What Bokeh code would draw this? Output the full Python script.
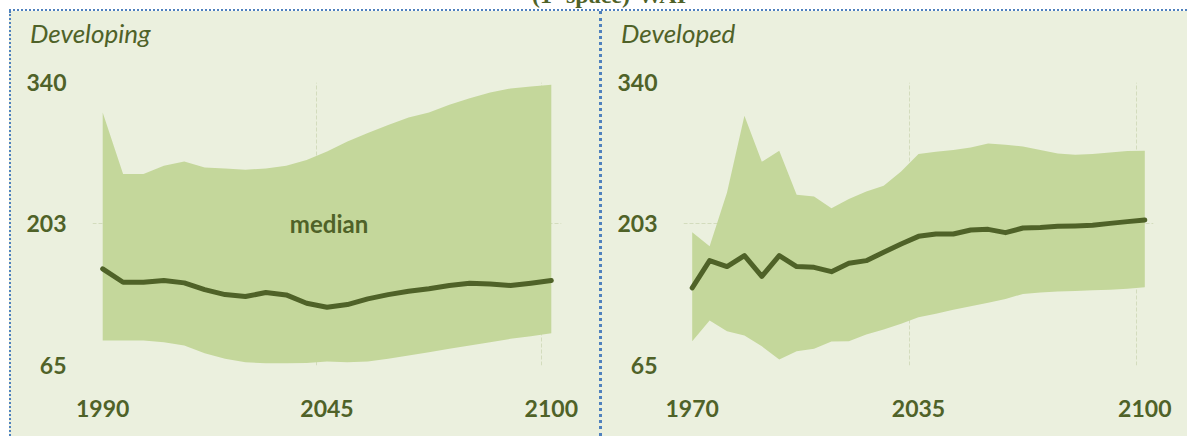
from bokeh.plotting import figure
from bokeh.layouts import row, column
from bokeh.models import Range1d, FixedTicker, Label, ColumnDataSource, Div, Spacer
from bokeh.embed import file_html
from bokeh.resources import INLINE

# ---------------- data ----------------
years_developing = [1990, 1995, 2000, 2005, 2010, 2015, 2020, 2025, 2030, 2035, 2040, 2045,
                    2050, 2055, 2060, 2065, 2070, 2075, 2080, 2085, 2090, 2095, 2100]
developing_median = [158.9, 145.9, 145.9, 147.5, 145.3, 138.8, 133.9, 132.0, 135.9, 133.6, 125.5, 121.6,
                     124.2, 129.7, 133.9, 137.1, 139.5, 142.7, 144.9, 144.3, 142.7, 144.9, 147.5]
developing_upper = [310.9, 251.1, 251.1, 259.1, 263.3, 257.5, 256.5, 255.3, 256.5, 259.1, 264.7, 273.0,
                    282.7, 290.9, 298.6, 306.0, 310.9, 318.4, 324.8, 330.3, 334.2, 336.1, 337.8]
developing_lower = [89.3, 89.3, 89.3, 87.6, 84.4, 76.9, 71.5, 68.2, 67.2, 67.2, 67.5, 68.9,
                    68.2, 68.9, 71.5, 74.7, 77.9, 81.2, 84.4, 87.6, 90.9, 93.4, 96.4]

years_developed = [1970, 1975, 1980, 1985, 1990, 1995, 2000, 2005, 2010, 2015, 2020, 2025, 2030, 2035,
                   2040, 2045, 2050, 2055, 2060, 2065, 2070, 2075, 2080, 2085, 2090, 2095, 2100]
developed_median = [140.4, 166.9, 161.1, 171.8, 151.7, 171.8, 161.1, 160.4, 156.2, 164.3, 166.9, 175.0, 183.1, 190.5,
                    192.8, 192.8, 196.7, 197.3, 194.1, 198.6, 199.2, 200.2, 200.6, 201.2, 203.1, 204.8, 206.4]
developed_upper = [194.4, 180.8, 233.2, 307.7, 263.0, 273.7, 231.0, 229.3, 217.7, 226.8, 234.2, 239.7, 253.6, 270.5,
                   272.7, 274.4, 276.9, 280.8, 279.5, 277.9, 274.4, 271.1, 269.8, 270.5, 272.1, 273.4, 273.7]
developed_lower = [88.6, 108.7, 98.3, 94.1, 83.7, 70.8, 78.9, 81.2, 88.3, 88.6, 95.1, 100.0, 105.5, 111.9,
                   115.2, 119.1, 122.6, 125.9, 129.7, 134.6, 135.9, 136.8, 137.5, 138.1, 138.5, 139.5, 141.0]

y_ticks = [65, 203, 340]
developing_x_ticks = [1990, 2045, 2100]
developed_x_ticks = [1970, 2035, 2100]
developing_x_grid = [1987.5, 2042.5, 2097.5]
developed_x_grid = [1967.5, 2032.5, 2097.5]

chart_title = "(1- space)·WAI"
panel_titles = ["Developing", "Developed"]
band_label = "median"

# ---------------- style ----------------
BG = "#ebf0de"
BAND = "#c4d79b"
DARK = "#4f6228"
GRID = "#d3dcbd"
BLUE = "#4f81bd"
FONT = "Lato"
HEAD_H = 50
FIG_H = 375
PANEL_H = HEAD_H + FIG_H


def make_panel(title, years, lower, upper, median, x_range, x_ticks, x_grid,
               width, border_left, border_right, show_label=False):
    p = figure(width=width, height=FIG_H, x_range=Range1d(*x_range), y_range=Range1d(65, 340),
               output_backend="svg", toolbar_location=None,
               background_fill_color=BG, border_fill_color=BG,
               min_border_left=border_left, min_border_right=border_right,
               min_border_top=21, min_border_bottom=71,
               styles={"background-color": BG})
    p.outline_line_color = None

    src = ColumnDataSource(dict(x=years, lo=lower, hi=upper, med=median))
    p.varea(x="x", y1="lo", y2="hi", source=src, fill_color=BAND, fill_alpha=1.0)
    p.line(x="x", y="med", source=src, line_color=DARK, line_width=5,
           line_join="round", line_cap="round")

    for ax in (p.xaxis[0], p.yaxis[0]):
        ax.axis_line_color = None
        ax.major_tick_line_color = None
        ax.minor_tick_line_color = None
        ax.major_tick_out = 0
        ax.major_tick_in = 0
        ax.major_label_text_font = FONT
        ax.major_label_text_font_style = "bold"
        ax.major_label_text_font_size = "23px"
        ax.major_label_text_color = DARK
    p.xaxis[0].ticker = FixedTicker(ticks=x_ticks)
    p.yaxis[0].ticker = FixedTicker(ticks=y_ticks)
    p.xaxis[0].major_label_standoff = 34
    p.yaxis[0].major_label_standoff = 26

    p.xgrid[0].ticker = FixedTicker(ticks=x_grid)
    p.ygrid[0].ticker = FixedTicker(ticks=y_ticks)
    for g in (p.xgrid[0], p.ygrid[0]):
        g.grid_line_color = GRID
        g.grid_line_dash = "4 2"
        g.grid_line_width = 1

    if show_label:
        p.add_layout(Label(x=2045.5, y=203, text=band_label, text_font=FONT,
                           text_font_style="bold", text_font_size="24px", text_color=DARK,
                           text_align="center", text_baseline="middle"))

    head = Div(text=('<div style="padding:7px 0 0 19px; line-height:30px; font-family:Lato, sans-serif; '
                     'font-style:italic; font-size:26px; color:' + DARK + '; white-space:nowrap;">'
                     + title + '</div>'),
               width=width, height=HEAD_H + 1,
               styles={"background-color": BG, "margin": "0 0 -1px 0", "padding": "0",
                       "overflow": "hidden"})
    return column(head, p, styles={"background-color": BG})


left = make_panel(panel_titles[0], years_developing, developing_lower, developing_upper,
                  developing_median, (1987.5, 2102.5), developing_x_ticks, developing_x_grid,
                  588, 81, 38, show_label=True)
right = make_panel(panel_titles[1], years_developed, developed_lower, developed_upper,
                   developed_median, (1967.5, 2102.5), developed_x_ticks, developed_x_grid,
                   585, 81, 34)

title_div = Div(
    text=('<div style="position:relative; top:-19px; margin-left:532px; white-space:nowrap; '
          'font-family:\'Liberation Serif\', serif; font-weight:bold; font-size:24px; '
          'line-height:28px; color:#4f6228;">' + chart_title + '</div>'),
    width=1187, height=9, styles={"overflow": "hidden", "margin": "0", "padding": "0"})

top_line = Div(text="", width=1178, height=2,
               styles={"border-top": "2px dotted " + BLUE, "box-sizing": "border-box",
                       "margin": "0", "padding": "0"})
left_line = Div(text="", width=2, height=PANEL_H,
                styles={"border-left": "2px dotted " + BLUE, "box-sizing": "border-box",
                        "background-color": BG, "margin": "0", "padding": "0"})
mid_line = Div(text="", width=3, height=PANEL_H,
               styles={"border-left": "3px dotted " + BLUE, "box-sizing": "border-box",
                       "background-color": BG, "margin": "0", "padding": "0"})

layout = column(
    title_div,
    row(Spacer(width=9, height=2), top_line),
    row(Spacer(width=9, height=PANEL_H), left_line, left, mid_line, right),
)
open("out.html", "w").write(file_html(layout, INLINE))
